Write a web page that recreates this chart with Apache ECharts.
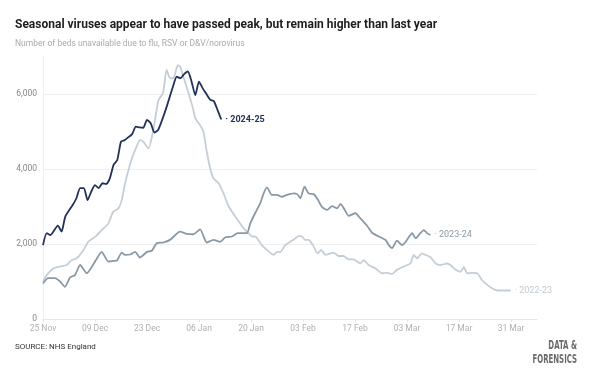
<!DOCTYPE html>
<html><head><meta charset="utf-8">
<script src="https://cdn.jsdelivr.net/npm/echarts@6/dist/echarts.min.js"></script>
<style>html,body{margin:0;padding:0;background:#fff}#c{width:600px;height:382px}</style>
</head><body><div id="c"></div>
<script>
// x = days since 25 Nov
var tickLabels = ['25 Nov','09 Dec','23 Dec','06 Jan','20 Jan','03 Feb','17 Feb','03 Mar','17 Mar','31 Mar'];
var yTicks = [0, 2000, 4000, 6000];

var days2425 = [0,1,2,4,5,6,8,9,10,11,12,13,14,15,16,17,18,19,20,21,22,23,24,25,26,27,28,29,30,31,33,35,36,37,38,39,40,41,42,43,44,45,46,47,48];
var vals2425 = [1970,2290,2240,2490,2330,2730,3040,3220,3490,3490,3170,3400,3570,3490,3620,3600,3750,4110,4240,4730,4770,4850,4930,5130,5110,5100,5310,5220,4970,5040,5570,6200,6460,6420,6530,6600,6330,5970,6330,6150,6000,5850,5810,5570,5320];

var days2324 = [0,1.4,3.2,4.6,5.9,7.3,8.6,10,11.8,14,15.8,17.6,19,19.9,21.2,22.1,23.5,24.8,26.1,28,29.3,30.6,32.4,34.2,36.9,38.7,40.5,42.3,44.1,45.9,47.7,49.1,50.9,52.4,54.9,55.8,57.1,58.5,59.4,60.3,61.6,63,64.3,65.7,67.5,68.4,69.3,70.4,71.5,72.9,73.9,75.1,76.5,77.8,79.2,80.1,81,82.3,84.1,85.4,87.3,88.6,90.4,92.2,93.1,94,95.3,96.7,98,99.4,100.3,101.6,102.5,103.4,104.3];
var vals2324 = [950,1090,1090,1000,860,1110,1170,1440,1220,1530,1790,1530,1550,1560,1770,1710,1720,1790,1640,1790,1820,2020,2040,2110,2330,2270,2260,2390,2040,2110,2060,2180,2200,2290,2290,2550,2820,3090,3350,3510,3310,3310,3260,3310,3350,3330,3220,3530,3350,3330,3200,2990,2910,3010,2950,3070,2950,2750,2820,2690,2480,2300,2200,2110,1970,1890,2090,1970,2110,2290,2150,2290,2370,2290,2240];

var days2223 = [0,1,2.8,4.6,6.4,7.7,9.1,10.9,12.2,14,15.8,17.6,18.9,20.3,21.2,22.1,23,24,25,26.1,27,28.4,29.7,31.1,32.3,33.3,34.2,35.1,36.3,36.9,37.8,39.2,40.5,41,42.3,43.2,44.1,45,45.9,47.3,48.6,50,52,54,55.3,56.3,57.1,58.9,60.3,62.1,63,63.9,65.2,66.6,67.9,68.8,69.7,70.6,71.5,72.7,73.9,74.9,76,77.4,78.2,79.6,80.9,82.3,83.6,85.4,86.3,87.7,89.5,91.3,92.6,94,95.3,97.1,98.9,99.8,100.7,102,102.5,104.3,105.7,107,108.8,109.7,111,112.4,113.3,114.2,115.5,116.9,118.2,119.6,121.4,122.7,124,125.9];
var vals2223 = [995,1170,1350,1400,1440,1570,1620,1840,2060,2190,2370,2550,2860,2950,3170,3620,3970,4300,4550,4770,4730,4550,5040,5840,6020,6640,6420,6420,6770,6730,6460,6020,5570,5350,5170,4990,4460,4020,3750,3620,3350,3000,2700,2420,2290,2200,2200,1970,1840,1710,1790,1790,1970,2060,2150,2210,2200,2110,2110,1970,1750,1840,1710,1750,1770,1680,1680,1590,1590,1480,1570,1440,1350,1220,1230,1200,1310,1400,1480,1710,1620,1750,1730,1650,1480,1440,1480,1440,1320,1260,1380,1220,1230,1220,1040,910,790,760,760,760];

function pairs(d, v){ return d.map(function(x,i){ return [x, v[i]]; }); }

var FONT = 'Roboto';
var chart = echarts.init(document.getElementById('c'), null, {renderer:'canvas'});

function lineSeries(name, d, v, color, labelColor, bold, z){
  return {
    name: name, type: 'line', data: pairs(d, v), showSymbol: false, smooth: 0.2, z: z,
    lineStyle: {color: color, width: 1.8}, itemStyle: {color: color},
    emphasis: {disabled: true},
    endLabel: {show: true, formatter: '· ' + name, color: labelColor, fontSize: 9,
      fontWeight: bold ? 'bold' : 'normal', fontFamily: FONT, distance: 4}
  };
}

chart.setOption({
  animation: false,
  textStyle: {fontFamily: FONT},
  title: [
    {text: 'Seasonal viruses appear to have passed peak, but remain higher than last year',
     left: 15, top: 19, padding: 0, textStyle: {fontSize: 12, fontWeight: 'bold', color: '#1e1e1e', fontFamily: FONT}},
    {text: 'Number of beds unavailable due to flu, RSV or D&V/norovirus',
     left: 15, top: 39, padding: 0, textStyle: {fontSize: 8.5, fontWeight: 'normal', color: '#aaaaaa', fontFamily: FONT}}
  ],
  grid: {left: 43, right: 63, top: 56.5, bottom: 63, containLabel: false},
  xAxis: {
    type: 'value', min: 0, max: 133, interval: 14,
    axisLine: {show: true, lineStyle: {color: '#e6e6e6', width: 1}},
    axisTick: {show: true, length: 3, lineStyle: {color: '#e6e6e6'}},
    splitLine: {show: false},
    axisLabel: {color: '#b0b0b0', fontSize: 8.5, margin: 5, showMaxLabel: false,
      formatter: function(v){ return (v % 14 === 0 && tickLabels[v/14]) ? tickLabels[v/14] : ''; }}
  },
  yAxis: {
    type: 'value', min: 0, max: 7000, interval: 2000,
    axisLine: {show: true, lineStyle: {color: '#efefef'}},
    axisTick: {show: false},
    splitLine: {show: true, showMaxLine: false, lineStyle: {color: '#efefef'}},
    axisLabel: {color: '#888888', fontSize: 8.5, margin: 6, showMaxLabel: false,
      formatter: function(v){ return yTicks.indexOf(v) >= 0 ? v.toLocaleString('en-GB') : ''; }}
  },
  series: [
    lineSeries('2022-23', days2223, vals2223, '#c5ced6', '#c0c9d1', false, 1),
    lineSeries('2023-24', days2324, vals2324, '#8a99a5', '#8a99a5', false, 2),
    lineSeries('2024-25', days2425, vals2425, '#23325a', '#23325a', true, 3)
  ],
  graphic: [
    {type: 'text', x: 15, y: 347, style: {text: 'SOURCE: NHS England', fontSize: 8, fill: '#333', fontFamily: FONT, verticalAlign: 'middle'}},
    {type: 'text', x: 577, y: 339, scaleX: 0.62, scaleY: 1,
      style: {text: 'DATA &\nFORENSICS', fontSize: 12.5, fontWeight: 'bold', fill: '#6a6a6a',
      fontFamily: 'DejaVu Sans Condensed', align: 'right', verticalAlign: 'top', lineHeight: 13.5}}
  ]
});
</script></body></html>
